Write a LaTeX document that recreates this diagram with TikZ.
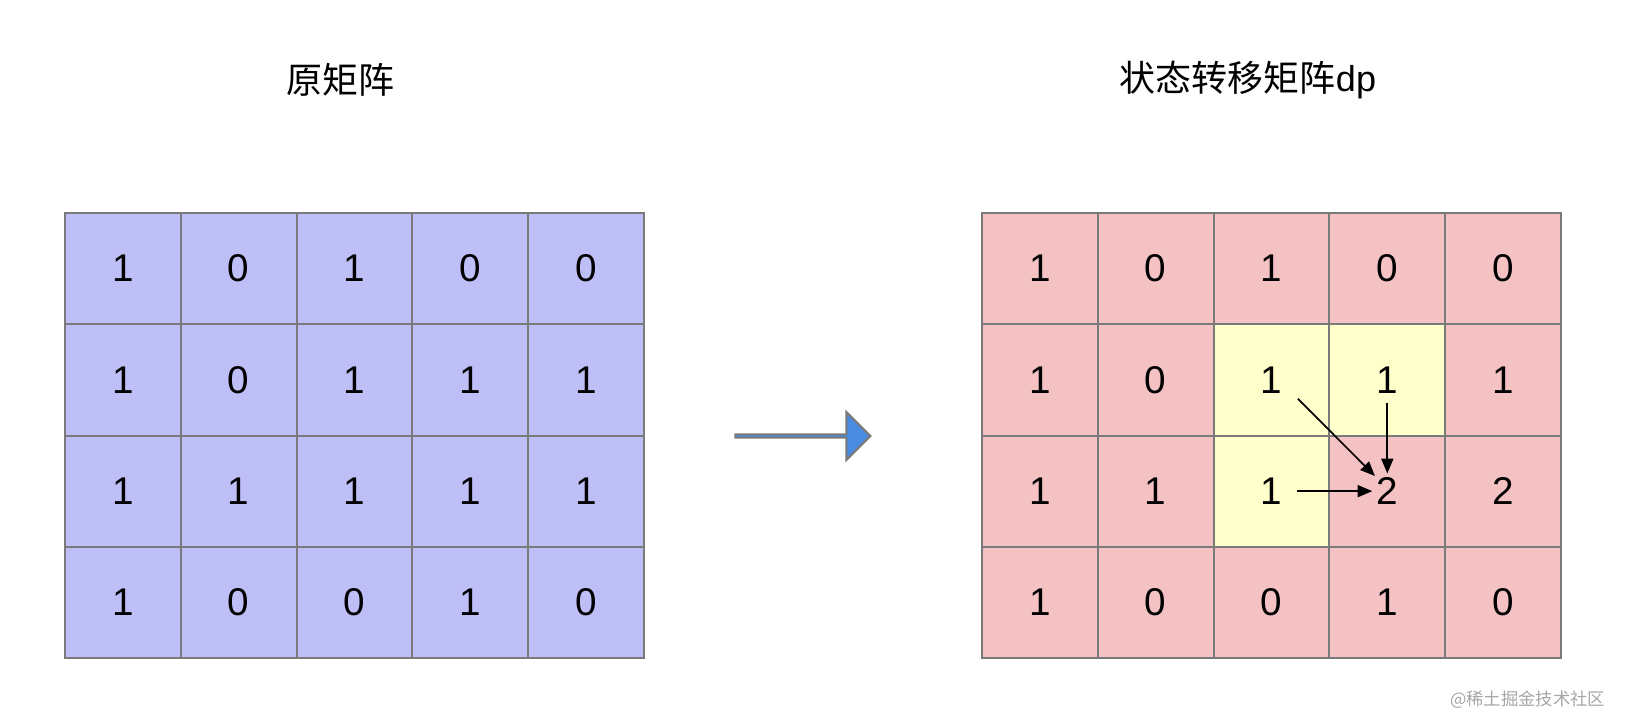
\documentclass[tikz,border=0pt]{standalone}
\usepackage{fontspec}
\setmainfont{Liberation Sans}
\newfontfamily\cjk{Noto Sans CJK SC}
\usetikzlibrary{shapes.arrows,arrows.meta}
\definecolor{gridc}{HTML}{7A7A7A}
\definecolor{bluec}{HTML}{BFBFF7}
\definecolor{pinkc}{HTML}{F4C2C2}
\definecolor{yelc}{HTML}{FFFFCC}
\definecolor{arrc}{HTML}{4A8BE0}
\begin{document}
\begin{tikzpicture}[x=0.75pt,y=-0.75pt,
  cell/.style={draw=gridc,line width=1.5pt,minimum width=115.8*0.75pt,minimum height=111.25*0.75pt,inner sep=0pt,font=\fontsize{29}{30}\selectfont},
  ttl/.style={font=\cjk\fontsize{27}{30}\selectfont},
  ia/.style={-{Triangle[length=11pt,width=9pt]},line width=1.3pt}]
\useasboundingbox (0,0) rectangle (1626,716);
\node[ttl] (t1) at (340,80) {原矩阵};
\node[ttl] (t2) at (1248,80) {状态转移矩阵{\fontspec{Liberation Sans}dp}};
\def\A{{1,0,1,0,0},{1,0,1,1,1},{1,1,1,1,1},{1,0,0,1,0}}
\foreach \r/\row in {0/{1,0,1,0,0},1/{1,0,1,1,1},2/{1,1,1,1,1},3/{1,0,0,1,0}}{
  \foreach \v [count=\c from 0] in \row {
    \node[cell,fill=bluec] (L\r\c) at ({65+115.8*(\c+0.5)},{213+111.25*(\r+0.5)}) {\v};
  }}
\foreach \r/\row in {0/{1,0,1,0,0},1/{1,0,1,1,1},2/{1,1,1,2,2},3/{1,0,0,1,0}}{
  \foreach \v [count=\c from 0] in \row {
    \node[cell,fill=pinkc] (R\r\c) at ({982+115.8*(\c+0.5)},{213+111.25*(\r+0.5)}) {};
  }}
\foreach \n in {R12,R13,R22}{\node[cell,fill=yelc] at (\n) {};}
\foreach \r/\row in {0/{1,0,1,0,0},1/{1,0,1,1,1},2/{1,1,1,2,2},3/{1,0,0,1,0}}{
  \foreach \v [count=\c from 0] in \row {
    \node[font=\fontsize{29}{30}\selectfont,inner sep=1pt] (V\r\c) at (R\r\c) {\v};
  }}
\node[single arrow,draw=gridc,fill=arrc,line width=1.5pt,minimum height=135*0.75pt,single arrow head extend=10pt,minimum width=48*0.75pt,inner sep=0pt] (bigarr) at (802,436) {};
\draw[ia] ([shift={(14,4)}]V12.south east) -- (V23.north west);
\draw[ia] ([yshift=-6]V13.south) -- ([yshift=2]V23.north);
\draw[ia] ([xshift=10]V22.east) -- ([xshift=-2]V23.west);
\node[font=\cjk\fontsize{13}{14}\selectfont,text=gray!70,anchor=east] (wm) at (1610,700) {@稀土掘金技术社区};
\end{tikzpicture}
\end{document}
